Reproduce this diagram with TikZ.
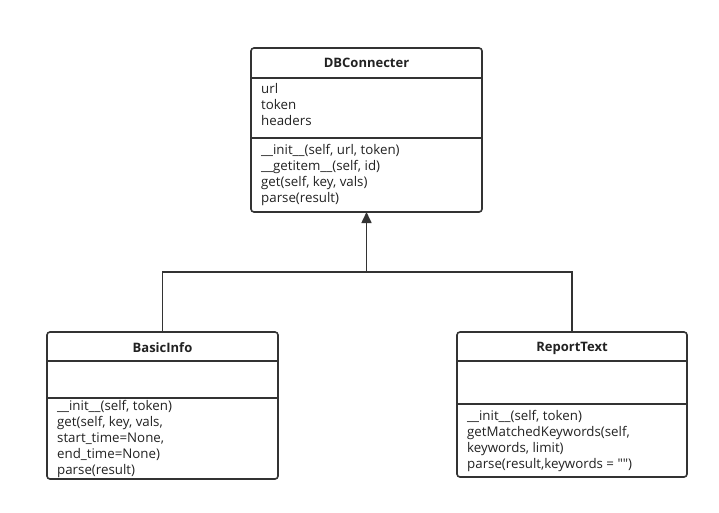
\documentclass[tikz,border=0pt]{standalone}
\usepackage{fontspec}
\setmainfont{Open Sans}
\usetikzlibrary{arrows.meta}
\definecolor{lc}{HTML}{333333}
\definecolor{tc}{HTML}{222222}
\begin{document}
\begin{tikzpicture}[x=1pt,y=-1pt,
  box/.style={draw=lc, line width=1.6pt, rounded corners=3pt, inner sep=0pt, outer sep=0pt, anchor=north west},
  ln/.style={draw=lc, line width=1.6pt},
  ttl/.style={font=\fontsize{13}{16}\selectfont\bfseries, text=tc, inner sep=0pt},
  txt/.style={font=\fontsize{13.3}{16}\selectfont, text=tc, align=left, anchor=west, inner sep=0pt}]
\useasboundingbox[fill=white] (0,0) rectangle (719,512);
% DBConnecter
\node[box, minimum width=231pt, minimum height=164pt] (db) at (251,48) {};
\draw[ln] ([yshift=-30pt]db.north west) -- ([yshift=-30pt]db.north east);
\draw[ln] ([yshift=-90pt]db.north west) -- ([yshift=-90pt]db.north east);
\node[ttl] (dbt) at (366.5,63) {DBConnecter};
\node[txt] (dba) at (261,105) {url\\token\\headers};
\node[txt] (dbm) at (261,175) {\_\_init\_\_(self, url, token)\\\_\_getitem\_\_(self, id)\\get(self, key, vals)\\parse(result)};
% BasicInfo
\node[box, minimum width=231pt, minimum height=147pt] (bi) at (47,332) {};
\draw[ln] ([yshift=-29pt]bi.north west) -- ([yshift=-29pt]bi.north east);
\draw[ln] ([yshift=-66pt]bi.north west) -- ([yshift=-66pt]bi.north east);
\node[ttl] (bit) at (162.5,348) {BasicInfo};
\node[txt] (bim) at (57,439) {\_\_init\_\_(self, token)\\get(self, key, vals,\\start\_time=None,\\end\_time=None)\\parse(result)};
% ReportText
\node[box, minimum width=230pt, minimum height=145pt] (rt) at (457,332) {};
\draw[ln] ([yshift=-29pt]rt.north west) -- ([yshift=-29pt]rt.north east);
\draw[ln] ([yshift=-72pt]rt.north west) -- ([yshift=-72pt]rt.north east);
\node[ttl] (rtt) at (572,348) {ReportText};
\node[txt] (rtm) at (467,441) {\_\_init\_\_(self, token)\\getMatchedKeywords(self,\\keywords, limit)\\parse(result,keywords = \textquotedbl\textquotedbl)};
% connectors
\coordinate (j) at (366.5,272);
\draw[ln] (bi.north) |- (j) -| (rt.north);
\draw[ln, -{Triangle[length=11pt,width=10pt]}] (j) -- (db.south);
\end{tikzpicture}
\end{document}
